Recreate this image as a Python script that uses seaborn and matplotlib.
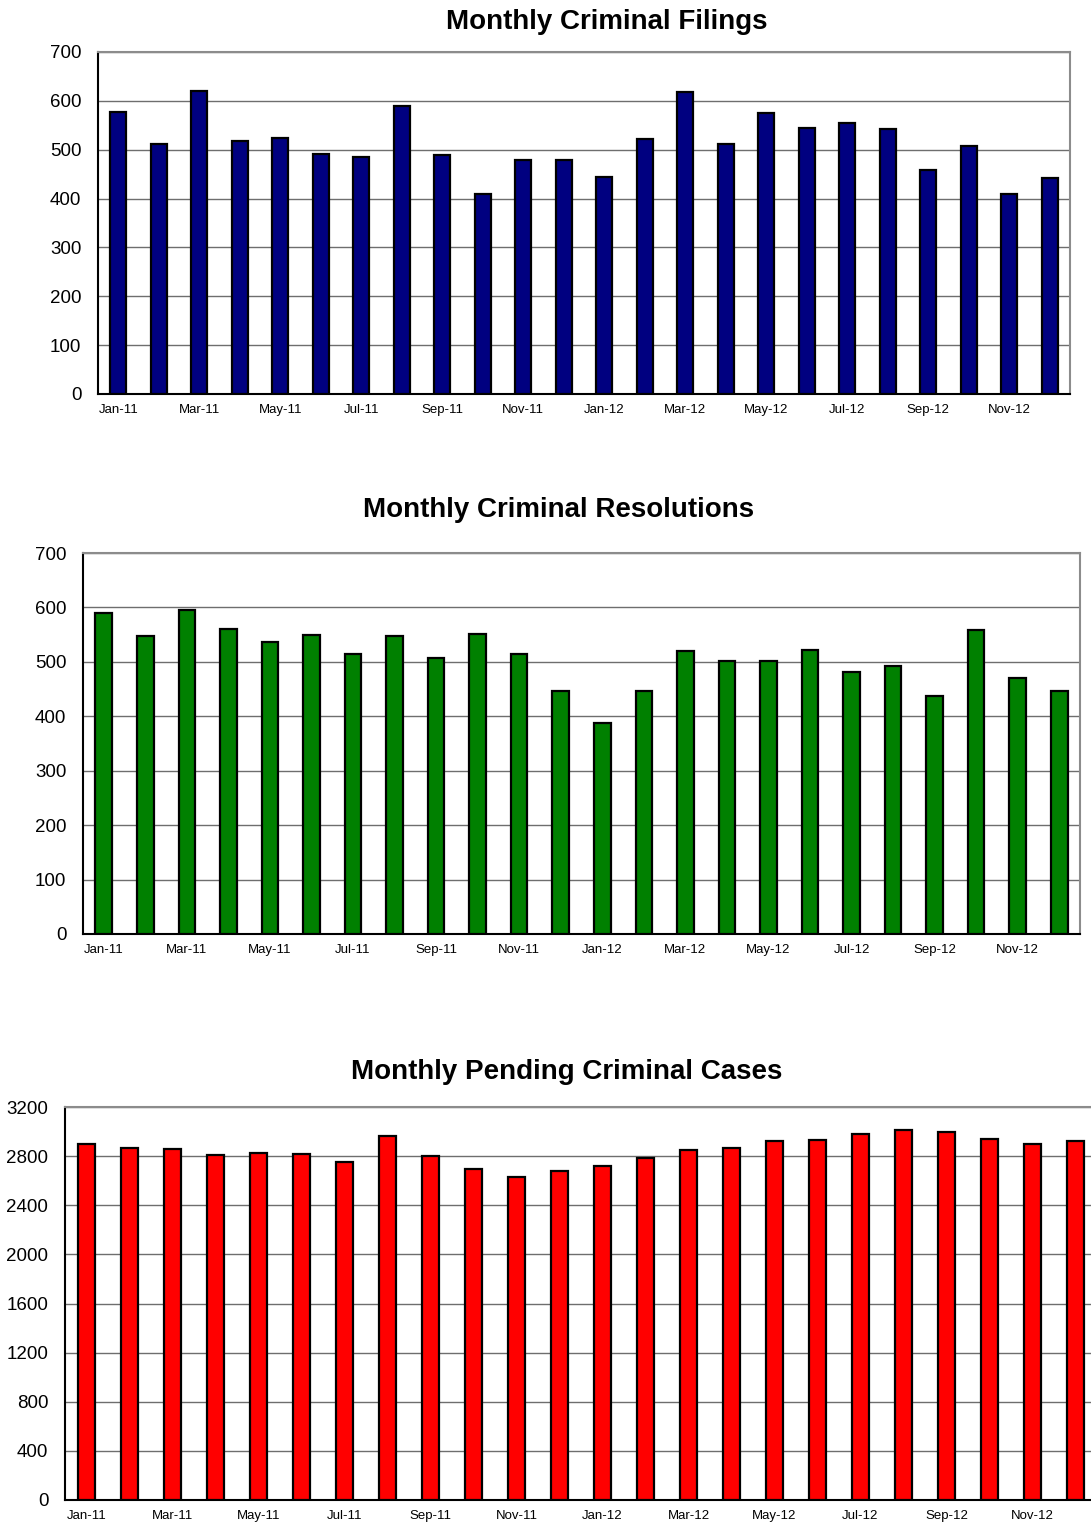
import matplotlib
matplotlib.use("Agg")
import matplotlib.pyplot as plt
import seaborn as sns
import pandas as pd

# Data
months = ["Jan-11", "Feb-11", "Mar-11", "Apr-11", "May-11", "Jun-11",
          "Jul-11", "Aug-11", "Sep-11", "Oct-11", "Nov-11", "Dec-11",
          "Jan-12", "Feb-12", "Mar-12", "Apr-12", "May-12", "Jun-12",
          "Jul-12", "Aug-12", "Sep-12", "Oct-12", "Nov-12", "Dec-12"]

filings = [577, 512, 620, 518, 525, 492, 486, 589, 490, 409, 479, 479,
           445, 522, 618, 512, 576, 544, 555, 542, 458, 507, 409, 443]

resolutions = [590, 547, 595, 561, 536, 549, 514, 547, 508, 552, 514, 446,
               388, 447, 520, 502, 501, 522, 481, 492, 438, 558, 470, 446]

pending = [2902, 2869, 2861, 2810, 2824, 2815, 2756, 2967, 2804, 2699, 2628, 2680,
           2718, 2783, 2848, 2867, 2924, 2932, 2981, 3010, 2993, 2937, 2899, 2921]


def main():
    sns.set_style("white")
    plt.rcParams["font.family"] = ["Liberation Sans", "DejaVu Sans"]
    plt.rcParams["text.color"] = "black"
    plt.rcParams["xtick.color"] = "black"
    plt.rcParams["ytick.color"] = "black"

    W, H = 1091, 1525
    fig = plt.figure(figsize=(W / 100, H / 100), dpi=100)

    # (left px, top px, right px, bottom px)
    panels = [
        ("Monthly Criminal Filings", filings, "#000080", (98, 52, 1070, 394),
         700, 100, 607, 22),
        ("Monthly Criminal Resolutions", resolutions, "#008000", (83, 553, 1080, 934),
         700, 100, 559, 510),
        ("Monthly Pending Criminal Cases", pending, "#FF0000", (65, 1107, 1097, 1500),
         3200, 400, 567, 1072),
    ]

    for title, values, color, (l, t, r, b), ymax, step, tx, ty in panels:
        ax = fig.add_axes([l / W, 1 - b / H, (r - l) / W, (b - t) / H])
        df = pd.DataFrame({"Month": months, "Value": values})
        sns.barplot(data=df, x="Month", y="Value", color=color, width=0.4,
                    edgecolor="black", linewidth=1.6, saturation=1, ax=ax, zorder=3)

        ax.set_ylim(0, ymax)
        ax.set_xlim(-0.5, len(months) - 0.5)
        ax.set_yticks(range(0, ymax + 1, step))
        ax.set_xticks(range(0, len(months), 2))
        ax.set_xticklabels(months[::2], fontsize=9.5)
        ax.tick_params(axis="y", labelsize=13.5, length=0, pad=12)
        ax.tick_params(axis="x", length=0, pad=7)
        ax.set_xlabel("")
        ax.set_ylabel("")

        ax.yaxis.grid(True, color="#6e6e6e", linewidth=1)
        ax.set_axisbelow(True)
        for side in ["top", "right"]:
            ax.spines[side].set_color("#8c8c8c")
            ax.spines[side].set_linewidth(1.5)
        for side in ["left", "bottom"]:
            ax.spines[side].set_color("black")
            ax.spines[side].set_linewidth(1.5)

        fig.text(tx / W, 1 - ty / H, title, ha="center", va="center",
                 fontsize=20, fontweight="bold", color="black")

    fig.savefig("out.png", dpi=100)


if __name__ == "__main__":
    main()
